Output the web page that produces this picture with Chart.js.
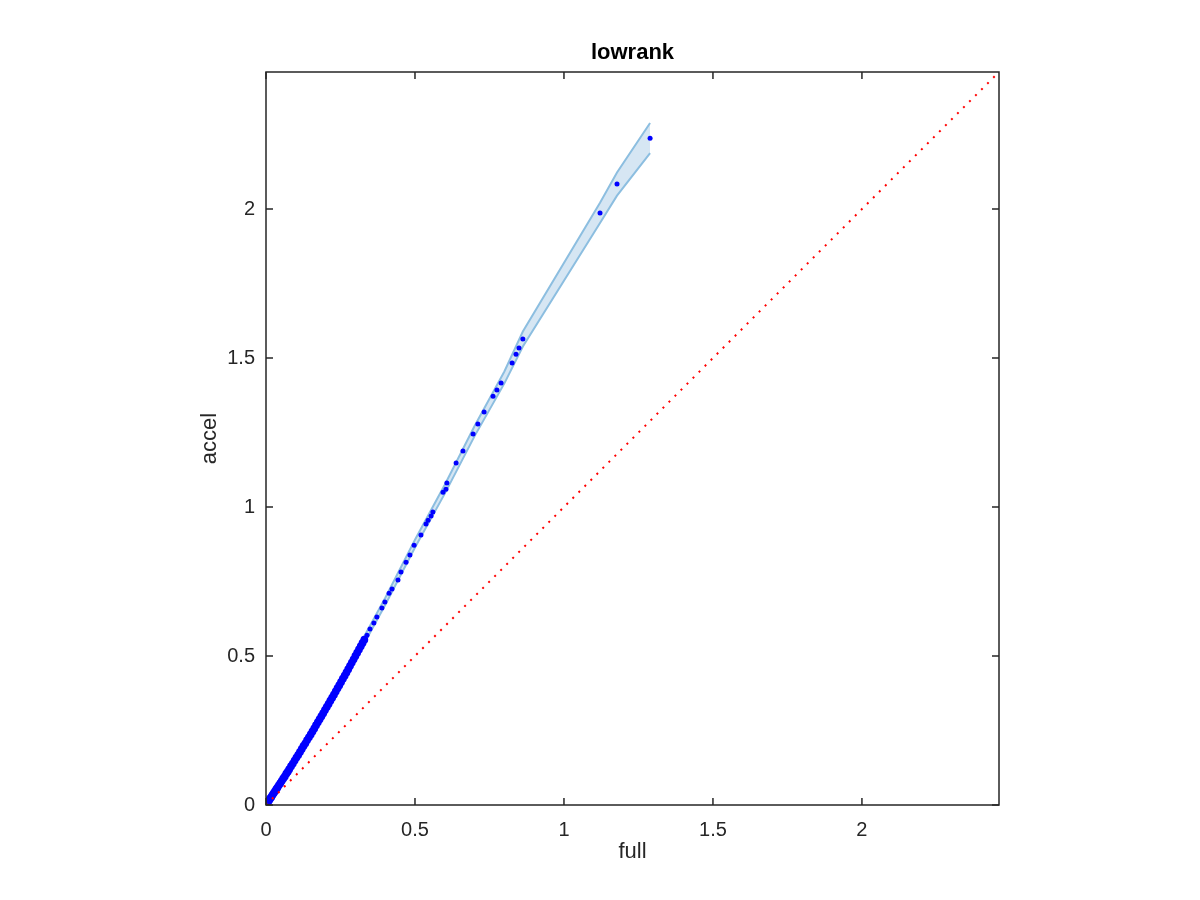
<!DOCTYPE html>
<html>
<head>
<meta charset="utf-8">
<title>lowrank</title>
<script src="https://cdn.jsdelivr.net/npm/chart.js@4.4.0/dist/chart.umd.min.js"></script>
<style>
  html, body { margin: 0; padding: 0; background: #fff; }
  canvas { display: block; }
</style>
</head>
<body>
<canvas id="c" width="1200" height="900"></canvas>
<script>
// axis ticks
var xTicks = [0, 0.5, 1, 1.5, 2]
var yTicks = [0, 0.5, 1, 1.5, 2]
var axisMax = 2.46

// dense part of the scatter (full vs accel)
var denseFull = [0.002, 0.005, 0.008, 0.011, 0.014, 0.018, 0.022, 0.026, 0.030, 0.034,
  0.038, 0.043, 0.048, 0.053, 0.058, 0.063, 0.068, 0.073, 0.078, 0.084,
  0.090, 0.096, 0.102, 0.108, 0.114, 0.120, 0.126, 0.132, 0.138, 0.144,
  0.150, 0.156, 0.162, 0.168, 0.174, 0.180, 0.186, 0.192, 0.198, 0.204,
  0.210, 0.216, 0.222, 0.228, 0.234, 0.240, 0.246, 0.252, 0.258, 0.264,
  0.270, 0.276, 0.282, 0.288, 0.294, 0.300, 0.306, 0.312, 0.318, 0.324, 0.330]
var denseAccel = [0.003, 0.008, 0.013, 0.017, 0.022, 0.027, 0.034, 0.040, 0.046, 0.052,
  0.058, 0.066, 0.073, 0.081, 0.089, 0.096, 0.105, 0.112, 0.120, 0.130,
  0.139, 0.149, 0.159, 0.168, 0.178, 0.188, 0.198, 0.207, 0.218, 0.227,
  0.237, 0.247, 0.257, 0.268, 0.278, 0.288, 0.298, 0.308, 0.319, 0.329,
  0.339, 0.350, 0.360, 0.370, 0.381, 0.392, 0.402, 0.413, 0.424, 0.434,
  0.445, 0.456, 0.467, 0.478, 0.489, 0.500, 0.511, 0.522, 0.533, 0.544, 0.555]

// sparse part of the scatter
var sparseFull = [0.339, 0.349, 0.362, 0.372, 0.389, 0.399, 0.413, 0.423, 0.443, 0.453,
  0.470, 0.483, 0.497, 0.520, 0.537, 0.544, 0.554, 0.560, 0.594, 0.604,
  0.607, 0.638, 0.661, 0.695, 0.711, 0.732, 0.762, 0.775, 0.789, 0.826,
  0.839, 0.849, 0.862, 1.121, 1.178, 1.289]
var sparseAccel = [0.570, 0.591, 0.611, 0.631, 0.661, 0.681, 0.711, 0.725, 0.755, 0.782,
  0.815, 0.839, 0.872, 0.906, 0.943, 0.956, 0.970, 0.983, 1.050, 1.060,
  1.081, 1.148, 1.188, 1.245, 1.279, 1.319, 1.372, 1.393, 1.416, 1.483,
  1.513, 1.534, 1.564, 1.987, 2.084, 2.238]

// confidence band
var bandFull = [0, 0.1, 0.2, 0.3, 0.4, 0.5, 0.6, 0.7, 0.8, 0.862, 1.121, 1.178, 1.289]
var bandUpper = [0.003, 0.167, 0.339, 0.512, 0.695, 0.890, 1.075, 1.272, 1.455, 1.589, 2.021, 2.123, 2.289]
var bandLower = [0, 0.151, 0.319, 0.488, 0.671, 0.864, 1.045, 1.238, 1.415, 1.539, 1.953, 2.045, 2.188]

// identity line
var diagFull = [0, axisMax]

function pts(xs, ys) {
  return xs.map(function (x, i) { return { x: x, y: ys[i] } })
}

var ink = '#262626'
var fontName = '"Liberation Sans", Arial, Helvetica, sans-serif'

var boxPlugin = {
  id: 'box',
  beforeDraw: function (chart) {
    var ctx = chart.ctx
    ctx.save()
    ctx.fillStyle = '#fff'
    ctx.fillRect(0, 0, chart.width, chart.height)
    ctx.restore()
  },
  afterDraw: function (chart) {
    var ctx = chart.ctx
    var a = chart.chartArea
    var xs = chart.scales.x
    var ys = chart.scales.y
    var len = 7
    ctx.save()
    ctx.strokeStyle = ink
    ctx.lineWidth = 1.5
    ctx.strokeRect(a.left, a.top, a.right - a.left, a.bottom - a.top)
    ctx.beginPath()
    xTicks.forEach(function (v) {
      var px = xs.getPixelForValue(v)
      ctx.moveTo(px, a.bottom); ctx.lineTo(px, a.bottom - len)
      ctx.moveTo(px, a.top); ctx.lineTo(px, a.top + len)
    })
    yTicks.forEach(function (v) {
      var py = ys.getPixelForValue(v)
      ctx.moveTo(a.left, py); ctx.lineTo(a.left + len, py)
      ctx.moveTo(a.right, py); ctx.lineTo(a.right - len, py)
    })
    ctx.stroke()

    var cx = (a.left + a.right) / 2
    ctx.fillStyle = '#000'
    ctx.textAlign = 'center'
    ctx.textBaseline = 'middle'
    ctx.font = 'bold 22px ' + fontName
    ctx.fillText('lowrank', cx, 53)

    ctx.fillStyle = ink
    ctx.font = '22px ' + fontName
    ctx.fillText('full', cx, 852)
    ctx.translate(210, (a.top + a.bottom) / 2)
    ctx.rotate(-Math.PI / 2)
    ctx.fillText('accel', 0, 0)
    ctx.restore()
  }
}

function plainLabel(v) { return String(v) }

var ctx = document.getElementById('c').getContext('2d')
new Chart(ctx, {
  type: 'scatter',
  data: {
    datasets: [
      {
        label: 'upper',
        data: pts(bandFull, bandUpper),
        showLine: true,
        pointRadius: 0,
        borderColor: 'rgb(140,190,224)',
        borderWidth: 2,
        backgroundColor: 'rgba(214,230,243,1)',
        fill: '+1',
        order: 4
      },
      {
        label: 'lower',
        data: pts(bandFull, bandLower),
        showLine: true,
        pointRadius: 0,
        borderColor: 'rgb(140,190,224)',
        borderWidth: 2,
        fill: false,
        order: 3
      },
      {
        label: 'dense',
        data: pts(denseFull, denseAccel),
        pointRadius: 3.9,
        pointBackgroundColor: '#0000ff',
        pointBorderWidth: 0,
        order: 2
      },
      {
        label: 'sparse',
        data: pts(sparseFull, sparseAccel),
        pointRadius: 2.5,
        pointBackgroundColor: '#0000ff',
        pointBorderWidth: 0,
        order: 2
      },
      {
        label: 'identity',
        data: pts(diagFull, diagFull),
        showLine: true,
        pointRadius: 0,
        borderColor: '#ff0000',
        borderWidth: 2,
        borderDash: [2, 6.5],
        fill: false,
        order: 1
      }
    ]
  },
  options: {
    responsive: false,
    animation: false,
    layout: { padding: { top: 72, right: 201, left: 0, bottom: 0 } },
    plugins: {
      legend: { display: false },
      tooltip: { enabled: false }
    },
    scales: {
      x: {
        type: 'linear',
        min: 0,
        max: axisMax,
        grid: { display: false },
        border: { display: false },
        ticks: { color: ink, font: { size: 20, family: fontName }, padding: 5, maxRotation: 0, callback: plainLabel },
        afterBuildTicks: function (s) { s.ticks = xTicks.map(function (v) { return { value: v } }) },
        afterFit: function (s) { s.height = 95 }
      },
      y: {
        type: 'linear',
        min: 0,
        max: axisMax,
        grid: { display: false },
        border: { display: false },
        ticks: { color: ink, font: { size: 20, family: fontName }, padding: 3, callback: plainLabel },
        afterBuildTicks: function (s) { s.ticks = yTicks.map(function (v) { return { value: v } }) },
        afterFit: function (s) { s.width = 266 }
      }
    }
  },
  plugins: [boxPlugin]
})
</script>
</body>
</html>
